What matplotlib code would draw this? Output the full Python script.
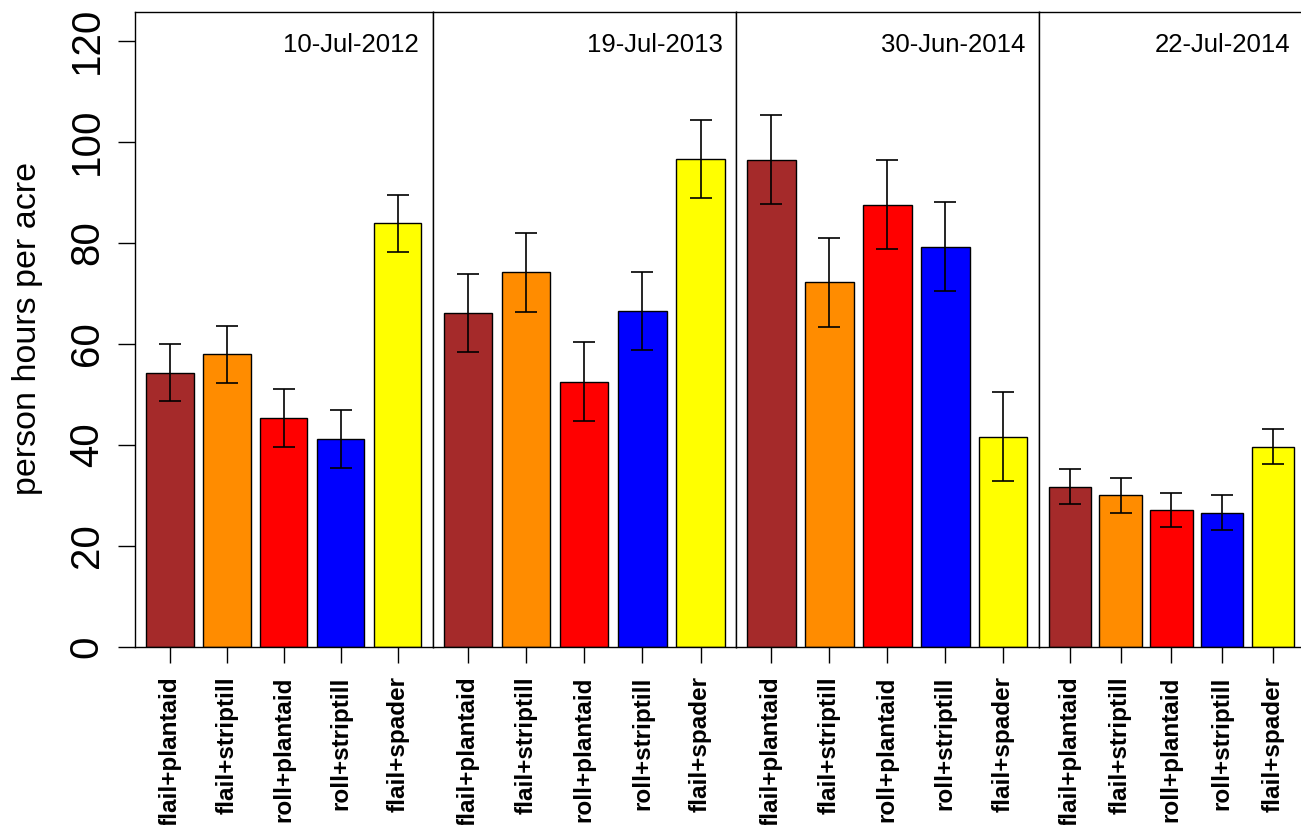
import numpy as np
import matplotlib
matplotlib.use("Agg")
import matplotlib.pyplot as plt

plt.rcParams["font.family"] = ["Liberation Sans", "DejaVu Sans"]

dates = ["10-Jul-2012", "19-Jul-2013", "30-Jun-2014", "22-Jul-2014"]
treatments = ["flail+plantaid", "flail+striptill", "roll+plantaid", "roll+striptill", "flail+spader"]
colors = ["brown", "darkorange", "red", "blue", "yellow"]

hours_jul2012 = [54.3, 57.9, 45.3, 41.2, 83.8]
hours_jul2013 = [66.1, 74.1, 52.5, 66.5, 96.6]
hours_jun2014 = [96.4, 72.2, 87.5, 79.2, 41.6]
hours_jul2014 = [31.7, 30.0, 27.1, 26.6, 39.6]
# one pooled standard error per sampling date
std_err = [5.7, 7.75, 8.8, 3.45]

hours = [hours_jul2012, hours_jul2013, hours_jun2014, hours_jul2014]

W, H = 1301, 825
fig = plt.figure(figsize=(W / 100, H / 100), dpi=100)

# panel edges in pixels (last panel runs slightly past the right edge)
lefts = [135, 432.5, 736, 1038.7]
widths = [297.5, 303.5, 302.7, 265.3]
top_px, bottom_px = 11.7, 647

# barplot-style positions: width 1, space 0.2
x = 0.7 + 1.2 * np.arange(len(treatments))

for k in range(4):
    ax = fig.add_axes([lefts[k] / W, 1 - bottom_px / H, widths[k] / W, (bottom_px - top_px) / H])
    ax.bar(x, hours[k], width=1.0, color=colors, edgecolor="black", linewidth=1.0, zorder=2)
    ax.errorbar(x, hours[k], yerr=std_err[k], fmt="none", ecolor="black",
                elinewidth=1.2, capsize=7.6, capthick=1.2, zorder=3)
    ax.set_xlim(-0.032, 6.232)
    ax.set_ylim(0, 125.7)
    ax.set_xticks(x)
    ax.set_xticklabels(treatments, rotation=90, fontsize=17.5, fontweight="bold", va="top")
    ax.tick_params(axis="x", length=11.5, width=1.0, pad=9.5)
    for side in ["left", "right", "top", "bottom"]:
        ax.spines[side].set_linewidth(1.0)
        ax.spines[side].set_color("black")
    if k == 0:
        ax.set_yticks([0, 20, 40, 60, 80, 100, 120])
        ax.set_yticklabels(["0", "20", "40", "60", "80", "100", "120"],
                           rotation=90, fontsize=29, va="center")
        ax.tick_params(axis="y", length=12, width=1.0, pad=9)
    else:
        ax.set_yticks([])
    ax.annotate(dates[k], xy=(1, 1), xycoords="axes fraction",
                xytext=(-13.5, -33.5), textcoords="offset pixels",
                ha="right", va="center", fontsize=18.5)

fig.text(28 / W, 1 - 328 / H, "person hours per acre", rotation=90,
         ha="center", va="center", fontsize=24.5)

fig.savefig("out.png", dpi=100)
